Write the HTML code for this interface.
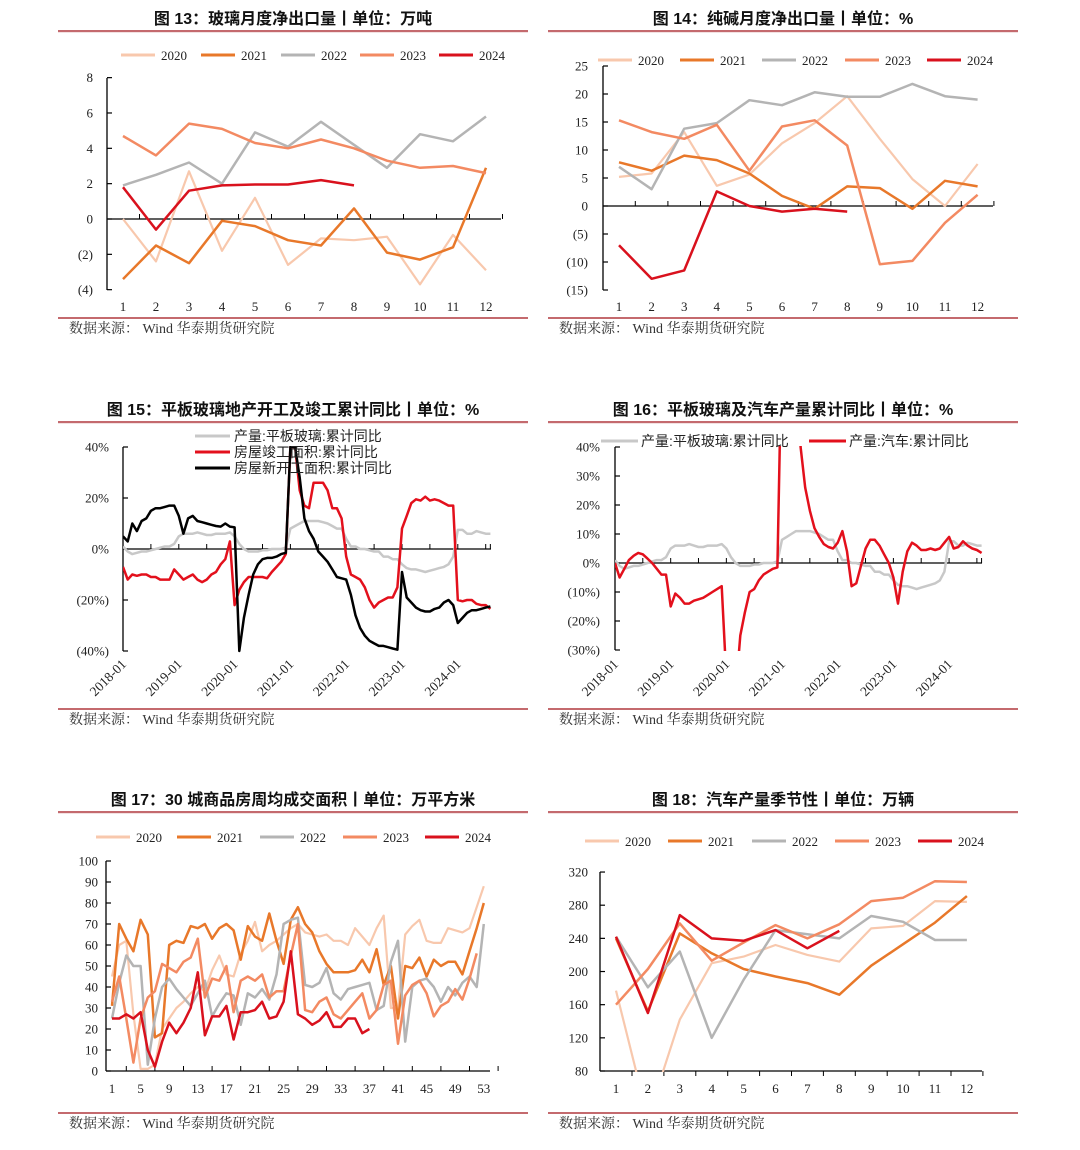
<!DOCTYPE html>
<html><head><meta charset="utf-8">
<style>
html,body{margin:0;padding:0;background:#fff;}
svg{display:block;}
.t{font-family:"Liberation Sans","Noto Sans CJK SC",sans-serif;font-weight:bold;font-size:16px;fill:#111;}
.tick{font-family:"Liberation Serif","Noto Serif CJK SC",serif;font-size:13px;fill:#222;}
.rtick{font-family:"Liberation Serif","Noto Serif CJK SC",serif;font-size:13.5px;fill:#222;}
.src{font-family:"Liberation Serif","Noto Serif CJK SC",serif;font-size:14px;fill:#333;}
.leg{font-family:"Liberation Serif","Noto Sans CJK SC",serif;font-size:13px;fill:#222;}
.legc{font-family:"Liberation Sans","Noto Sans CJK SC",sans-serif;font-size:14px;fill:#222;}
</style></head>
<body>
<svg id="root" width="1080" height="1150" viewBox="0 0 1080 1150" xmlns="http://www.w3.org/2000/svg">
<defs>
<clipPath id="c13"><rect x="107" y="60" width="400" height="240"/></clipPath>
<clipPath id="c14"><rect x="603" y="50" width="400" height="250"/></clipPath>
<clipPath id="c15"><rect x="123" y="446" width="375" height="207"/></clipPath>
<clipPath id="c16"><rect x="615" y="446" width="375" height="205"/></clipPath>
<clipPath id="c17"><rect x="106" y="850" width="400" height="222"/></clipPath>
<clipPath id="c18"><rect x="600" y="860" width="400" height="212"/></clipPath>
</defs>
</svg>
<script>
// ---- Chart 13 data (glass net exports, 万吨) ----
const c13Months=[1,2,3,4,5,6,7,8,9,10,11,12];
const c13Y2020=[0,-2.4,2.7,-1.8,1.2,-2.6,-1.1,-1.2,-1.0,-3.7,-0.9,-2.9];
const c13Y2021=[-3.4,-1.5,-2.5,-0.1,-0.4,-1.2,-1.5,0.6,-1.9,-2.3,-1.6,2.9];
const c13Y2022=[1.9,2.5,3.2,2.0,4.9,4.1,5.5,4.2,2.9,4.8,4.4,5.8];
const c13Y2023=[4.7,3.6,5.4,5.1,4.3,4.0,4.5,4.0,3.3,2.9,3.0,2.6];
const c13Y2024=[1.8,-0.6,1.6,1.9,1.95,1.95,2.2,1.9];
const c13Ticks=[8,6,4,2,0,-2,-4];
// ---- Chart 14 data (soda ash net exports) ----
const c14Y2020=[5.2,5.8,13.2,3.6,5.6,11.2,14.8,19.6,12,4.8,0,7.5];
const c14Y2021=[7.8,6.3,9,8.2,5.8,1.8,-0.5,3.5,3.2,-0.5,4.5,3.5];
const c14Y2022=[7,3,13.8,14.8,18.9,18,20.3,19.5,19.5,21.8,19.6,19];
const c14Y2023=[15.3,13.2,12,14.5,6.3,14.2,15.3,10.8,-10.4,-9.8,-3,2];
const c14Y2024=[-7,-13,-11.5,2.6,0,-1,-0.5,-1];
const c14Ticks=[25,20,15,10,5,0,-5,-10,-15];
// ---- Chart 15 data (monthly 2018-01..2024-08) ----
const c15Years=["2018-01","2019-01","2020-01","2021-01","2022-01","2023-01","2024-01"];
const glassYoY=[1,-1,-2,-1.5,-1,-1,-0.5,0,0.5,1,1,2, 5,6,6,6,6.5,6,5.5,5.5,6,6,6,6.5, 5,2,0,-1,-1,-1,-0.5,-0.5,0,0,0,0.5, 8,9,10,11,11,11,11,10.5,10,9,8,8, 4,1,1,0,0,-0.5,-1,-1,-3,-3,-4,-4, -6,-7.5,-8,-8,-8.5,-9,-8.5,-8,-7.5,-7,-6,-3, 7.5,7.5,6,6,7,6.5,6,6];
const completionYoY=[-7,-12,-10,-10.5,-10,-10,-11,-11,-12,-12,-12,-8, -10,-12,-11,-10,-12,-13,-12,-10,-9,-6,-4,3, -22,-16,-13,-11,-11,-11,-11,-11.5,-9,-7,-5,-2, 40,40,23,17,16,26,26,26,23,16,16,12, -3,-10,-11,-12,-15,-20,-23,-21,-20,-19,-19,-15, 8,13,18,19.5,19,20.5,19,19.5,19,18,17,17, -20,-20.5,-20,-20,-21.5,-22,-22,-23.5];
const newStartYoY=[5,3,10,7,11,12,15,16,16,16.5,17,17, 13,6,12,13,11,10.5,10,9.5,9,8.8,10,8.8, 8.5,-40,-27,-18,-10,-6,-4,-3.5,-3.5,-3,-2,-1.5, 40,40,28,12,7,4,-1,-3,-5,-8,-11,-11.5, -12,-18,-26,-31,-34,-36,-37,-38,-38,-38.5,-39,-39.5, -9,-19,-21,-23,-24,-24.5,-24.5,-23.5,-23,-21,-20,-22, -29,-27,-25,-24,-24,-23.5,-23,-22.5];
const c15Ticks=[40,20,0,-20,-40];
// ---- Chart 16 data ----
const autoYoY=[0,-5,-2,1,2.5,3.5,3,1.5,0,-2,-4,-4, -15,-10.5,-12,-14,-14,-13,-12.5,-12,-11,-10,-9,-8, -40,-80,-45,-25,-17,-10,-9,-6,-4,-3,-2,-1.5, 80,80,80,80,40,26,18,12,9,6.5,5.5,5, 7,11,4,-8,-7,-1,5,8,8,6,3,0, -5,-14,-3,4,7,6,4.5,4.5,5,4.5,5,7, 9,5,5.5,7.5,6,5,4.5,3.5];
const c16Ticks=[40,30,20,10,0,-10,-20,-30];
// ---- Chart 17 data (30-city weekly sales, 万平方米) ----
const c17Weeks=[1,5,9,13,17,21,25,29,33,37,41,45,49,53];
const c17Y2020=[45,60,62,27,1,1,3,20,25,30,33,37,40,38,48,55,46,45,56,62,71,57,60,62,65,68,70,66,65,64,65,62,62,60,68,64,60,68,74,30,30,65,69,72,62,61,61,68,67,66,68,78,88];
const c17Y2021=[31,70,63,57,72,65,16,18,60,62,61,69,68,70,63,68,70,67,53,69,64,62,75,62,51,72,78,70,66,57,51,47,47,47,48,53,47,58,41,50,25,50,49,54,45,53,50,52,52,46,57,68,80];
const c17Y2022=[25,42,55,50,50,3,25,40,44,39,35,31,37,43,26,32,37,36,22,37,35,39,34,46,70,72,73,41,40,42,49,37,34,39,40,41,42,29,31,52,62,14,40,43,44,40,33,40,36,42,45,40,70];
const c17Y2023=[33,45,25,4,25,35,38,51,49,47,52,54,63,35,44,43,50,28,43,45,43,46,35,38,38,55,70,29,28,33,35,27,25,29,33,37,25,29,41,43,13,36,41,43,37,26,31,33,39,34,44,56];
const c17Y2024=[25,25,27,25,28,10,2,14,23,18,23,30,47,17,26,26,31,15,28,28,29,33,25,26,33,57,27,25,22,24,28,21,21,25,25,18,20];
const c17Ticks=[100,90,80,70,60,50,40,30,20,10,0];
// ---- Chart 18 data (auto production seasonality, 万辆) ----
const c18Y2020=[177,23,142,210,218,232,220,212,252,255,285,284];
const c18Y2021=[240,152,246,222,203,194,186,172,207,233,259,291];
const c18Y2022=[242,181,224,120,190,250,245,240,267,260,238,238];
const c18Y2023=[160,203,258,213,235,256,240,257,285,289,309,308];
const c18Y2024=[242,150,268,240,237,250,228,249];
const c18Ticks=[320,280,240,200,160,120,80];

const NS="http://www.w3.org/2000/svg";
const root=document.getElementById('root');
const COL={y2020:'#f8c8ad',y2021:'#e8782a',y2022:'#b4b4b4',y2023:'#f38a62',y2024:'#d9111d',gray:'#c8c8c8',red:'#e3101c',black:'#000'};
function mk(tag,attrs,parent){const e=document.createElementNS(NS,tag);for(const k in attrs)e.setAttribute(k,attrs[k]);(parent||root).appendChild(e);return e;}
function txt(s,x,y,cls,anchor,fill,parent){const e=mk('text',{x:x,y:y,class:cls,'text-anchor':anchor||'start'},parent);if(fill)e.setAttribute('fill',fill);e.textContent=s;return e;}
function poly(vals,xf,yf,color,w,clip,name){
  const pts=vals.map((v,i)=>xf(i).toFixed(1)+','+yf(v).toFixed(1)).join(' ');
  const p=mk('polyline',{points:pts,fill:'none',stroke:color,'stroke-width':w,'stroke-linejoin':'round','clip-path':'url(#'+clip+')'});
  
  
  return p;
}
function fmtNeg(v,suffix){return v<0?'('+(-v)+suffix+')':v+suffix;}
function frame(x0,x1,yTitle,yBottom,title,name){
  const t=txt(title,(x0+x1)/2,yTitle,'t','middle');
  
  
  const r1=mk('rect',{x:x0,y:yTitle+6,width:x1-x0,height:2.2,fill:'#c46a6e'});
  
  
  const r2=mk('rect',{x:x0,y:yBottom,width:x1-x0,height:2,fill:'#c46a6e'});
  
  
  const s=txt('数据来源：  Wind 华泰期货研究院',x0+11,yBottom+16,'src','start');
  
  
}
function legendYears(items,y,name){
  items.forEach(it=>{
    const l=mk('line',{x1:it[0],y1:y,x2:it[0]+34,y2:y,stroke:it[2],'stroke-width':3});
    
    
    const t=txt(it[1],it[0]+40,y+5,'leg','start');
    
    
  });
}
function yAxis(x,ytop,ybot,ticks,yf,fmt,labelX,name){
  const a=mk('line',{x1:x,y1:ytop,x2:x,y2:ybot,stroke:'#000','stroke-width':1.3});
  
  
  ticks.forEach(v=>{
    mk('line',{x1:x,y1:yf(v),x2:x+5,y2:yf(v),stroke:'#000','stroke-width':1.2});
    const t=txt(fmt(v),labelX,yf(v)+4.5,'tick','end',v<0?'#e4101c':'#222');
    
    
  });
}

// ===== Chart 13 =====
frame(58,528,24,317,'图 13：玻璃月度净出口量丨单位：万吨','chart13');
legendYears([[121,'2020',COL.y2020],[201,'2021',COL.y2021],[281,'2022',COL.y2022],[360,'2023',COL.y2023],[439,'2024',COL.y2024]],55,'chart13');
{const x=i=>123+i*33,y=v=>219-v*17.67;
 yAxis(107,78,290,c13Ticks,y,v=>fmtNeg(v,''),93,'chart13');
 const ax=mk('line',{x1:107,y1:219,x2:501,y2:219,stroke:'#000','stroke-width':1.3});
 
 c13Months.forEach((m,i)=>{mk('line',{x1:x(i)+16.5,y1:219,x2:x(i)+16.5,y2:214,stroke:'#000'});const t=txt(String(m),x(i),311,'tick','middle');});
 poly(c13Y2020,x,y,COL.y2020,2.2,'c13','chart13-line-2020');
 poly(c13Y2021,x,y,COL.y2021,2.5,'c13','chart13-line-2021');
 poly(c13Y2022,x,y,COL.y2022,2.5,'c13','chart13-line-2022');
 poly(c13Y2023,x,y,COL.y2023,2.5,'c13','chart13-line-2023');
 poly(c13Y2024,x,y,COL.y2024,2.5,'c13','chart13-line-2024');}

// ===== Chart 14 =====
frame(548,1018,24,317,'图 14：纯碱月度净出口量丨单位：%','chart14');
legendYears([[598,'2020',COL.y2020],[680,'2021',COL.y2021],[762,'2022',COL.y2022],[845,'2023',COL.y2023],[927,'2024',COL.y2024]],60,'chart14');
{const x=i=>619+i*32.6,y=v=>206-v*5.6;
 yAxis(603,66,290,c14Ticks,y,v=>fmtNeg(v,''),588,'chart14');
 const ax=mk('line',{x1:603,y1:206,x2:993,y2:206,stroke:'#000','stroke-width':1.3});
 
 c13Months.forEach((m,i)=>{mk('line',{x1:x(i)+16.3,y1:206,x2:x(i)+16.3,y2:201,stroke:'#000'});const t=txt(String(m),x(i),311,'tick','middle');});
 poly(c14Y2020,x,y,COL.y2020,2.2,'c14','chart14-line-2020');
 poly(c14Y2021,x,y,COL.y2021,2.5,'c14','chart14-line-2021');
 poly(c14Y2022,x,y,COL.y2022,2.5,'c14','chart14-line-2022');
 poly(c14Y2023,x,y,COL.y2023,2.5,'c14','chart14-line-2023');
 poly(c14Y2024,x,y,COL.y2024,2.5,'c14','chart14-line-2024');}

// ===== Chart 15 =====
frame(58,528,415,708,'图 15：平板玻璃地产开工及竣工累计同比丨单位：%','chart15');
{const x=i=>123+i*4.65,y=v=>549-v*2.55;
 yAxis(123,447,651,c15Ticks,y,v=>fmtNeg(v,'%'),109,'chart15');
 const ax=mk('line',{x1:123,y1:549,x2:491,y2:549,stroke:'#000','stroke-width':1.3});
 
 c15Years.forEach((s,k)=>{const xx=x(k*12);mk('line',{x1:xx,y1:549,x2:xx,y2:544,stroke:'#000'});
   if(xx+27.9<491)mk('line',{x1:xx+27.9,y1:549,x2:xx+27.9,y2:544,stroke:'#000'});
   const t=txt(s,xx+4,665,'rtick','end');t.setAttribute('transform','rotate(-45 '+(xx+4)+' 665)');});
 mk('line',{x1:x(79),y1:549,x2:x(79),y2:544,stroke:'#000'});
 poly(glassYoY,x,y,COL.gray,2.5,'c15','chart15-line-glass-output');
 poly(completionYoY,x,y,COL.red,2.5,'c15','chart15-line-completion-area');
 poly(newStartYoY,x,y,COL.black,2.5,'c15','chart15-line-new-start-area');
 [['产量:平板玻璃:累计同比',COL.gray,436],['房屋竣工面积:累计同比',COL.red,452],['房屋新开工面积:累计同比',COL.black,468]].forEach((l,k)=>{
   const ln=mk('line',{x1:195,y1:l[2],x2:230,y2:l[2],stroke:l[1],'stroke-width':3});
   const t=txt(l[0],234,l[2]+5,'legc','start');});}

// ===== Chart 16 =====
frame(548,1018,415,708,'图 16：平板玻璃及汽车产量累计同比丨单位：%','chart16');
{const x=i=>615+i*4.64,y=v=>563-v*2.9;
 yAxis(615,447,650,c16Ticks,y,v=>fmtNeg(v,'%'),600,'chart16');
 const ax=mk('line',{x1:615,y1:563,x2:982,y2:563,stroke:'#000','stroke-width':1.3});
 
 c15Years.forEach((s,k)=>{const xx=x(k*12);mk('line',{x1:xx,y1:563,x2:xx,y2:558,stroke:'#000'});
   if(xx+27.8<982)mk('line',{x1:xx+27.8,y1:563,x2:xx+27.8,y2:558,stroke:'#000'});
   const t=txt(s,xx+4,665,'rtick','end');t.setAttribute('transform','rotate(-45 '+(xx+4)+' 665)');});
 mk('line',{x1:x(79),y1:563,x2:x(79),y2:558,stroke:'#000'});
 poly(glassYoY,x,y,COL.gray,2.5,'c16','chart16-line-glass-output');
 poly(autoYoY,x,y,COL.red,2.5,'c16','chart16-line-auto-output');
 [['产量:平板玻璃:累计同比',COL.gray,601,641],['产量:汽车:累计同比',COL.red,809,849]].forEach(l=>{
   const ln=mk('line',{x1:l[2],y1:441,x2:l[2]+37,y2:441,stroke:l[1],'stroke-width':3});
   const t=txt(l[0],l[3],446,'legc','start');});}

// ===== Chart 17 =====
frame(58,528,805,1112,'图 17：30 城商品房周均成交面积丨单位：万平方米','chart17');
legendYears([[96,'2020',COL.y2020],[177,'2021',COL.y2021],[260,'2022',COL.y2022],[343,'2023',COL.y2023],[425,'2024',COL.y2024]],837,'chart17');
{const x=i=>112+i*7.15,y=v=>1071-v*2.1;
 yAxis(106,861,1071,c17Ticks,y,v=>String(v),98,'chart17');
 const ax=mk('line',{x1:106,y1:1071,x2:490,y2:1071,stroke:'#000','stroke-width':1.3});
 
 c17Weeks.forEach(w=>{const xx=x(w-1);mk('line',{x1:xx+14.3,y1:1071,x2:xx+14.3,y2:1066,stroke:'#000'});const t=txt(String(w),xx,1093,'tick','middle');});
 poly(c17Y2020,x,y,COL.y2020,2.2,'c17','chart17-line-2020');
 poly(c17Y2021,x,y,COL.y2021,2.5,'c17','chart17-line-2021');
 poly(c17Y2022,x,y,COL.y2022,2.5,'c17','chart17-line-2022');
 poly(c17Y2023,x,y,COL.y2023,2.5,'c17','chart17-line-2023');
 poly(c17Y2024,x,y,COL.y2024,2.5,'c17','chart17-line-2024');}

// ===== Chart 18 =====
frame(548,1018,805,1112,'图 18：汽车产量季节性丨单位：万辆','chart18');
legendYears([[585,'2020',COL.y2020],[668,'2021',COL.y2021],[752,'2022',COL.y2022],[835,'2023',COL.y2023],[918,'2024',COL.y2024]],841,'chart18');
{const x=i=>616+i*31.9,y=v=>1071-(v-80)*0.829;
 yAxis(600,872,1071,c18Ticks,y,v=>String(v),588,'chart18');
 const ax=mk('line',{x1:600,y1:1071,x2:982,y2:1071,stroke:'#000','stroke-width':1.3});
 
 c13Months.forEach((m,i)=>{mk('line',{x1:x(i)+16,y1:1071,x2:x(i)+16,y2:1076,stroke:'#000'});const t=txt(String(m),x(i),1093,'tick','middle');});
 poly(c18Y2020,x,y,COL.y2020,2.2,'c18','chart18-line-2020');
 poly(c18Y2021,x,y,COL.y2021,2.5,'c18','chart18-line-2021');
 poly(c18Y2022,x,y,COL.y2022,2.5,'c18','chart18-line-2022');
 poly(c18Y2023,x,y,COL.y2023,2.5,'c18','chart18-line-2023');
 poly(c18Y2024,x,y,COL.y2024,2.5,'c18','chart18-line-2024');}
</script>
</body></html>
